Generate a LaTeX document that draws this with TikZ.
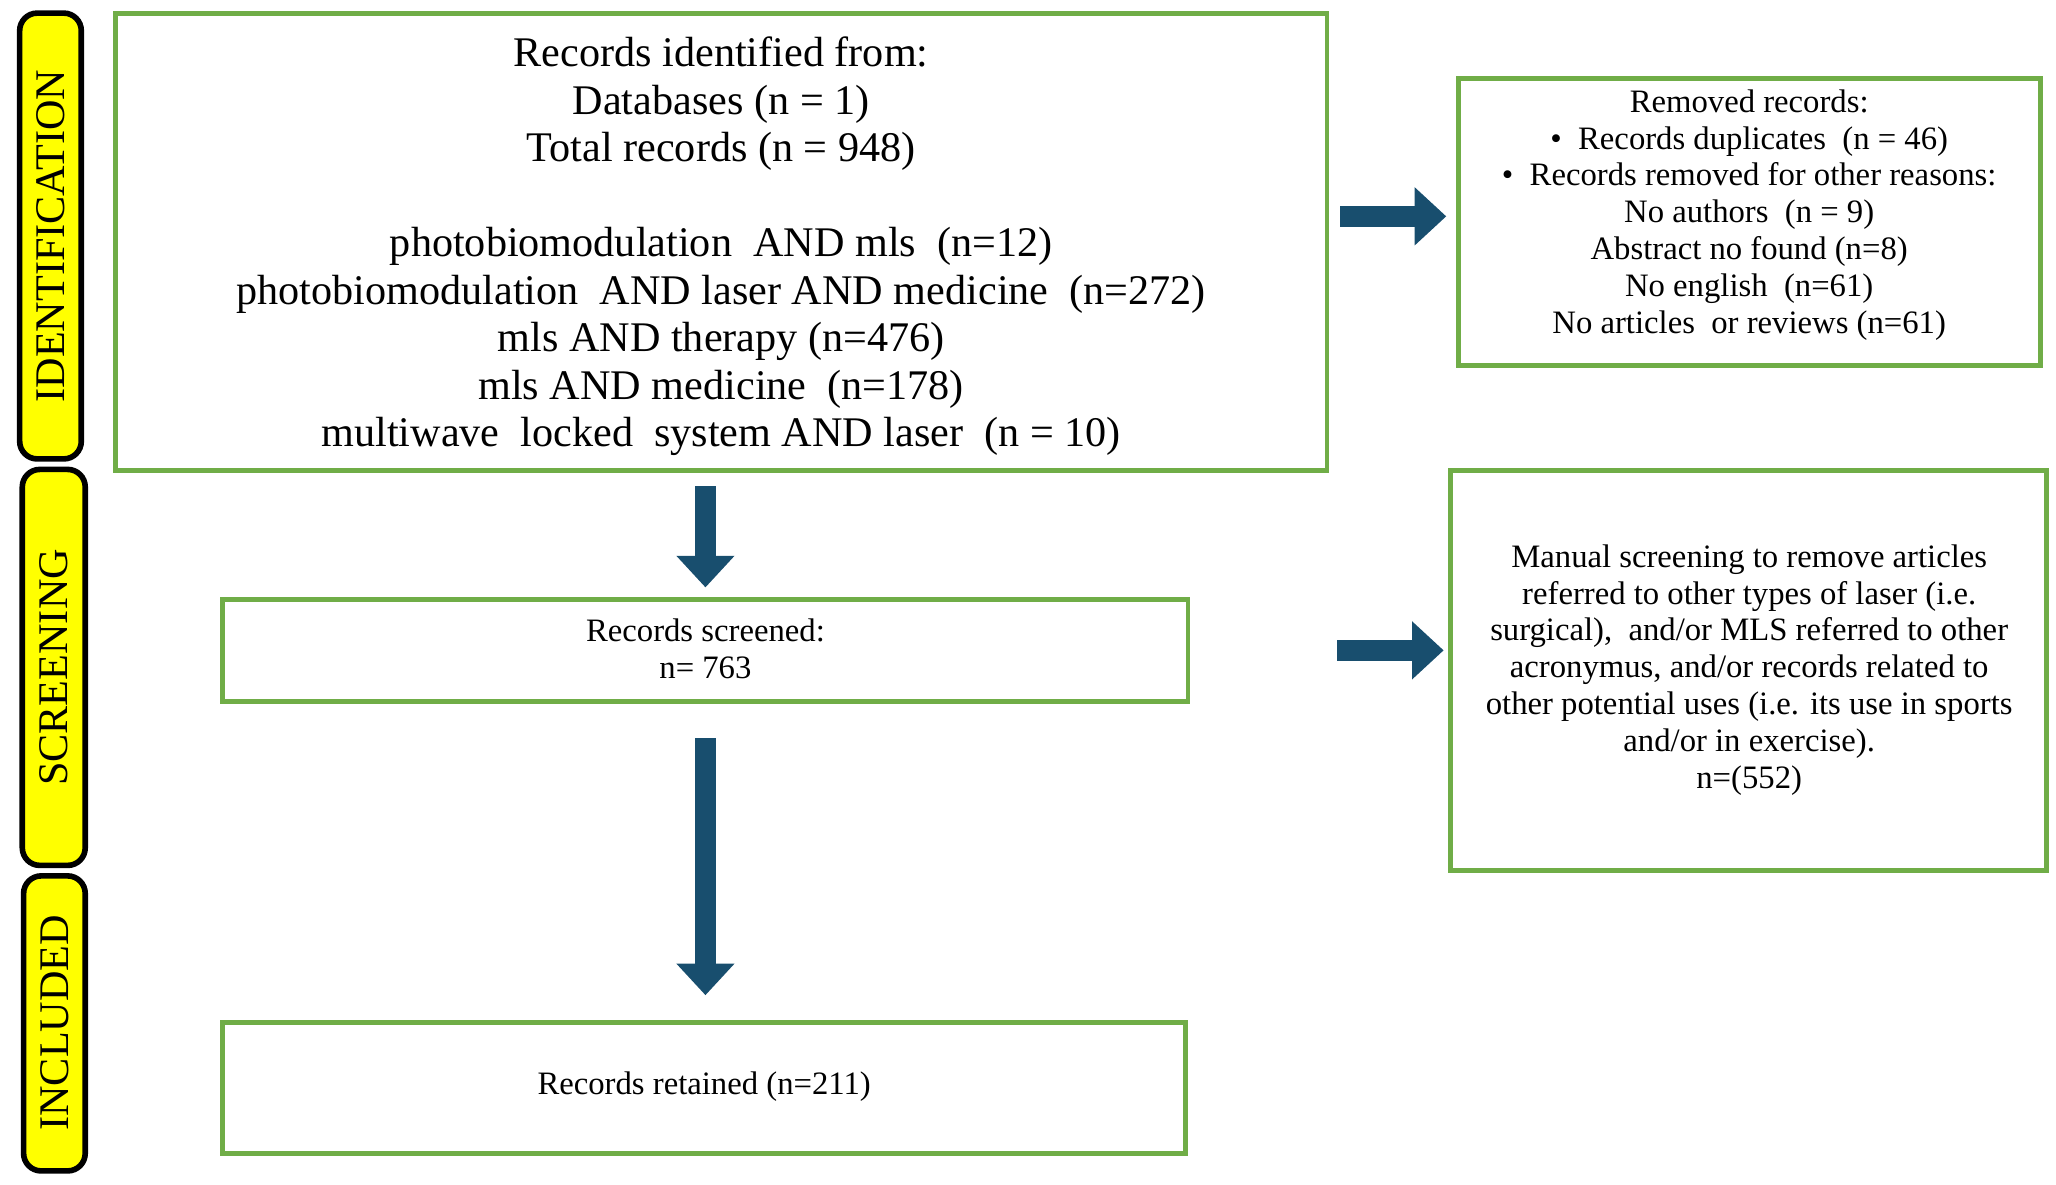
\documentclass[tikz,border=0pt]{standalone}
\usepackage{fontspec}
\setmainfont{Liberation Serif}
\usetikzlibrary{arrows.meta,positioning}
\definecolor{boxgreen}{RGB}{112,173,71}
\definecolor{arrowblue}{RGB}{24,78,110}
\definecolor{phaseyellow}{RGB}{255,255,0}
\tikzset{
  box/.style={draw=boxgreen,line width=1.4pt,align=center,inner sep=0pt},
  phase/.style={draw=black,fill=phaseyellow,line width=1.6pt,rounded corners=5pt},
  bigarrow/.style={draw=arrowblue,line width=6pt,-{Triangle[length=9pt,width=16pt]}},
  bigtext/.style={font=\fontsize{12}{13.5}\selectfont},
  smalltext/.style={font=\fontsize{9.3}{10.5}\selectfont}
}
\begin{document}
\begin{tikzpicture}[x=0.013112cm,y=-0.013112cm]
\useasboundingbox (0,0) rectangle (1568,903);
% Phase labels
\draw[phase] (15,10) rectangle (62,350);
\node[rotate=90,font=\fontsize{12}{13}\selectfont] (ident) at (38.5,180) {IDENTIFICATION};
\draw[phase] (17,358) rectangle (65,660);
\node[rotate=90,font=\fontsize{12}{13}\selectfont] (screen) at (41,509) {SCREENING};
\draw[phase] (18,668) rectangle (65,893);
\node[rotate=90,font=\fontsize{12}{13}\selectfont] (incl) at (41.5,780) {INCLUDED};
% Boxes
\draw[box] (88,10) rectangle (1012,359);
\node[bigtext,align=center] (records) at (550,188) {Records identified from:\\Databases (n = 1)\\Total records (n = 948)\\[13.5pt]
photobiomodulation\ \ AND mls\ \ (n=12)\\photobiomodulation\ \ AND laser AND medicine\ \ (n=272)\\
mls AND therapy (n=476)\\mls AND medicine\ \ (n=178)\\multiwave\ \ locked\ \ system AND laser\ \ (n = 10)};
\draw[box] (1112,60) rectangle (1556,279);
\node[smalltext,align=center] (removed) at (1334,164) {Removed records:\\
\textbullet\ \ Records duplicates\ \ (n = 46)\\
\textbullet\ \ Records removed for other reasons:\\
No authors\ \ (n = 9)\\Abstract no found (n=8)\\No english\ \ (n=61)\\No articles\ \ or reviews (n=61)};
\draw[box] (170,457) rectangle (906,535);
\node[smalltext,align=center] (screened) at (538,495) {Records screened:\\n= 763};
\draw[box] (1106,359) rectangle (1561,664);
\node[smalltext,align=center] (manual) at (1334,511) {Manual screening to remove articles\\
referred to other types of laser (i.e.\\surgical),\ \ and/or MLS referred to other\\
acronymus, and/or records related to\\other potential uses (i.e. its use in sports\\
and/or in exercise).\\n=(552)};
\draw[box] (170,780) rectangle (904,880);
\node[smalltext] (retained) at (537,829) {Records retained (n=211)};
% Arrows
\coordinate (a1s) at (1022,165); \coordinate (a1e) at (1103,165);
\coordinate (a2s) at (538,371); \coordinate (a2e) at (538,448);
\coordinate (a3s) at (1020,496); \coordinate (a3e) at (1101,496);
\coordinate (a4s) at (538,563); \coordinate (a4e) at (538,759);
\draw[bigarrow] (a1s) -- (a1e);
\draw[bigarrow] (a2s) -- (a2e);
\draw[bigarrow] (a3s) -- (a3e);
\draw[bigarrow] (a4s) -- (a4e);
\end{tikzpicture}
\end{document}
